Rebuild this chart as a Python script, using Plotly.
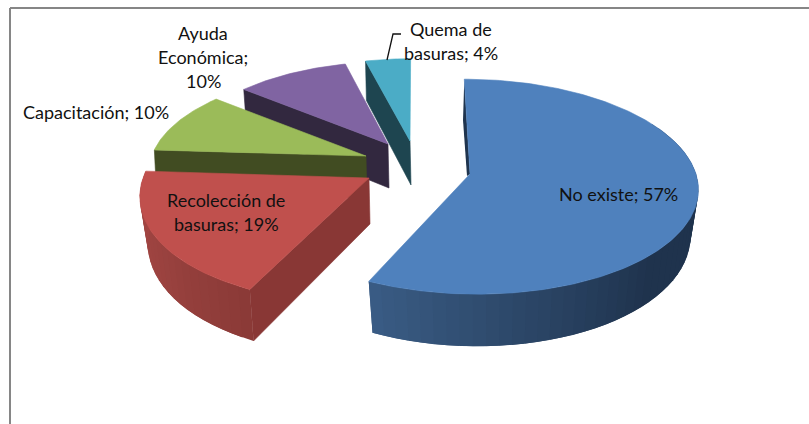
import math
import plotly.graph_objects as go

# ---- data ----
categories = ["No existe", "Recolección de basuras", "Capacitación", "Ayuda Económica", "Quema de basuras"]
values = [57, 19, 10, 10, 4]
label_lines = [
    ["No existe; 57%"],
    ["Recolección de", "basuras; 19%"],
    ["Capacitación; 10%"],
    ["Ayuda", "Económica;", "10%"],
    ["Quema de", "basuras; 4%"],
]
top_colors = ["#4f81bd", "#c0504d", "#9bbb59", "#8064a2", "#4bacc6"]
face_colors = ["#1f344e", "#893735", "#414c22", "#32283f", "#1e4550"]

# ---- style / camera (pixel-like axis units) ----
apex = [(470, 174), (369, 178), (366, 156), (388, 144), (410, 141)]
radius_x = [226, 226, 214, 204, 202]
radius_y = [106, 110, 96, 92, 92]
depth = [46, 46, 42, 44, 44]
k = 0.118
vp = [416, 465, 416, 416, 416]
bottom_shrink = [0.965, 0.965, 0.99, 0.98, 0.98]
rim_ranges = {0: (60, None), 1: (None, None)}
rim_stops = {
    0: [(60, "#1f334d"), (135, "#1f334d"), (165, "#2a4464"), (205, "#3a5c85")],
    1: [(205, "#8a3a37"), (240, "#9c4340"), (285, "#a64744")],
}
label_pos = {
    0: [(618, 194)],
    1: [(226, 200), (226, 224)],
    2: [(96, 112)],
    3: [(203, 33), (203, 57), (203, 81)],
    4: [(451, 29), (451, 53)],
}
sliver_lower = [(463, 120), (467, 176)]
FONT = "Lato"
FONT_SIZE = 18


def pt(i, theta, lower=False):
    t = math.radians(theta)
    u, v = math.sin(t), -math.cos(t)
    s = 1 / (1 - k * v)
    ax, ay = apex[i]
    f = bottom_shrink[i] if lower else 1.0
    x = ax + (ax - vp[i]) * (s - 1) + radius_x[i] * u * s * f
    y = ay + radius_y[i] * v * s + (depth[i] * s if lower else 0)
    return x, y


def low_apex(i):
    return apex[i][0] + 1, apex[i][1] + depth[i]


def hexmix(a, b, f):
    ca = [int(a[j:j + 2], 16) for j in (1, 3, 5)]
    cb = [int(b[j:j + 2], 16) for j in (1, 3, 5)]
    return "#%02x%02x%02x" % tuple(round(p + (q - p) * f) for p, q in zip(ca, cb))


def stop_color(stops, th):
    for (t0, c0), (t1, c1) in zip(stops, stops[1:]):
        if t0 <= th <= t1:
            return hexmix(c0, c1, (th - t0) / (t1 - t0))
    return stops[0][1] if th < stops[0][0] else stops[-1][1]


fig = go.Figure()


def poly(points, color, lw=0.6):
    xs = [p[0] for p in points] + [points[0][0]]
    ys = [p[1] for p in points] + [points[0][1]]
    fig.add_trace(go.Scatter(x=xs, y=ys, mode="lines", fill="toself", fillcolor=color,
                             line=dict(color=color, width=lw), hoverinfo="skip", showlegend=False))


# slice angles from the values
angles = []
acc = 0.0
total = sum(values)
for val in values:
    angles.append((acc * 360 / total, (acc + val) * 360 / total))
    acc += val

# painter's order: back to front
for i in [4, 3, 2, 1, 0]:
    a0, a1 = angles[i]
    # rim strips with gradient; each strip overlaps the next so no seams show
    if i in rim_ranges:
        lo, hi = rim_ranges[i]
        lo = a0 if lo is None else lo
        hi = a1 if hi is None else hi
        steps = int((hi - lo) / 3)
        for n in range(steps):
            t0 = lo + (hi - lo) * n / steps
            t1 = min(hi, lo + (hi - lo) * (n + 2) / steps)
            poly([pt(i, t0), pt(i, t1), pt(i, t1, True), pt(i, t0, True)],
                 stop_color(rim_stops[i], t0 + (hi - lo) / steps / 2), lw=0)
    # cut face of the leading edge
    if i == 0:
        poly([pt(0, a0), apex[0], sliver_lower[1], sliver_lower[0]], face_colors[0], lw=0)
    else:
        poly([pt(i, a0), apex[i], low_apex(i), pt(i, a0, True)], face_colors[i])
    # top surface
    n = max(int(a1 - a0), 4)
    arc = [pt(i, a0 + (a1 - a0) * q / n) for q in range(n + 1)]
    poly([apex[i]] + arc, top_colors[i])

# leader line of the small slice
fig.add_trace(go.Scatter(x=[387, 393, 401], y=[60, 34, 34], mode="lines",
                         line=dict(color="#111111", width=1.3), hoverinfo="skip", showlegend=False))

annotations = []
for i, lines in enumerate(label_lines):
    for line, (lx, ly) in zip(lines, label_pos[i]):
        annotations.append(dict(x=lx, y=ly, xref="x", yref="y", text=line, showarrow=False,
                                xanchor="center", yanchor="middle",
                                font=dict(family=FONT, size=FONT_SIZE, color="#111111")))

frame = dict(type="line", xref="x", yref="y", line=dict(color="#868686", width=2))
fig.update_layout(
    width=809, height=424, margin=dict(l=0, r=0, t=0, b=0), autosize=False,
    paper_bgcolor="white", plot_bgcolor="white", showlegend=False,
    xaxis=dict(range=[0, 809], visible=False, fixedrange=True),
    yaxis=dict(range=[424, 0], visible=False, fixedrange=True),
    annotations=annotations,
    shapes=[dict(frame, x0=10, y0=8, x1=10, y1=424), dict(frame, x0=10, y0=8, x1=809, y1=8)],
)
fig.write_html("out.html", config={"displayModeBar": False},
               post_script="document.body.style.margin='0';document.body.style.overflow='hidden';")
